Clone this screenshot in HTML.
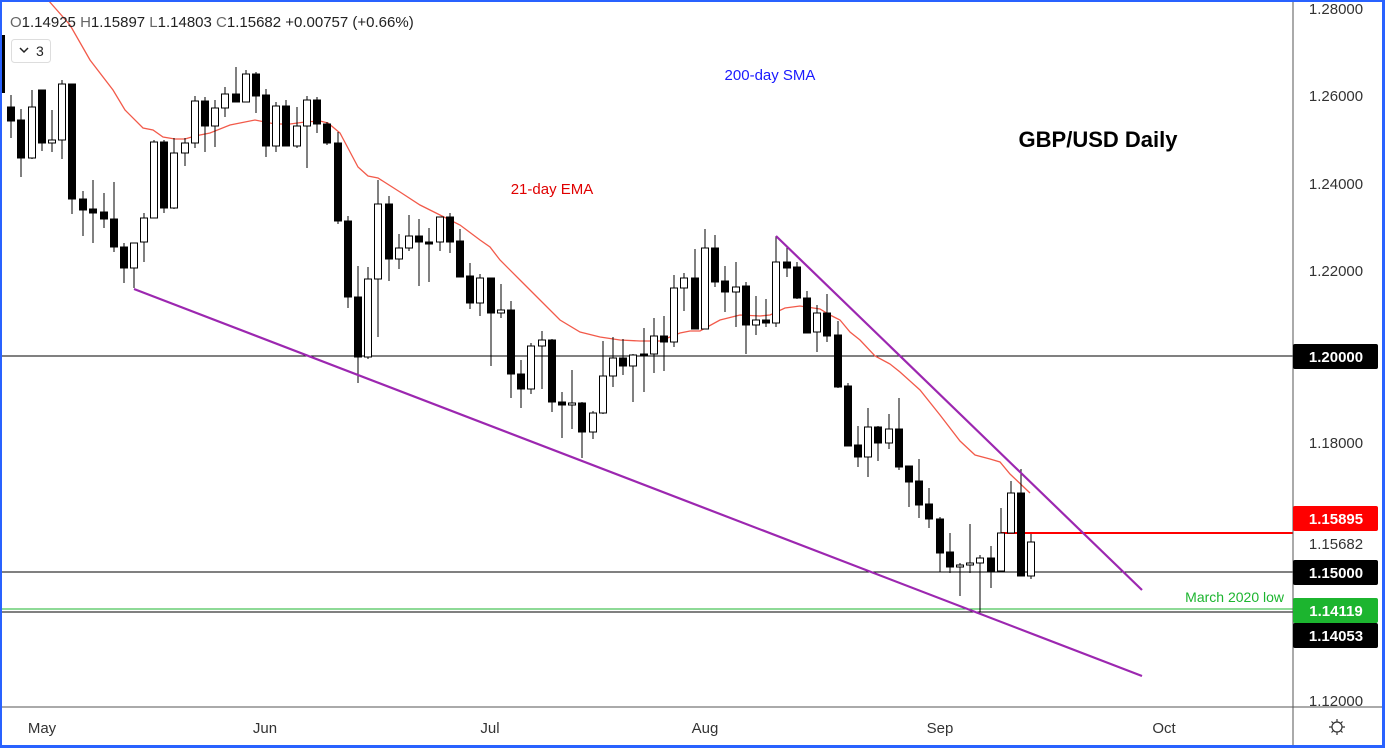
<!DOCTYPE html>
<html><head><meta charset="utf-8"><style>
html,body{margin:0;padding:0;background:#fff;}
svg{display:block;font-family:"Liberation Sans",sans-serif;}
</style></head><body>
<svg id="s" width="1385" height="748" xmlns="http://www.w3.org/2000/svg">
<rect width="1385" height="748" fill="#fff"/>
<g id="grid">
<line x1="0" y1="356" x2="1293" y2="356" stroke="#000" stroke-width="1"/>
<line x1="0" y1="572" x2="1293" y2="572" stroke="#000" stroke-width="1"/>
<line x1="0" y1="609" x2="1293" y2="609" stroke="#1cb52f" stroke-width="1"/>
<line x1="0" y1="612" x2="1293" y2="612" stroke="#000" stroke-width="1"/>
<line x1="1001" y1="533" x2="1293" y2="533" stroke="#f00" stroke-width="2"/>
</g>
<polyline fill="none" stroke="#f25a4a" stroke-width="1.3" points="48,0 70,25 90,60 113,90 125,110 143,128 153,130 163,137 175,139 185,139 195,136 210,133 230,125 255,120 275,124 290,124 305,122 320,121 328,123 340,133 358,167 368,176 378,178 400,192 420,205 440,215 460,225 480,240 490,247 500,260 520,280 540,300 560,320 580,332 600,337 620,340 640,341 660,341 680,333 690,331 700,331 720,320 740,315 760,316 770,315 785,308 800,306 820,309 830,315 840,320 850,332 860,340 875,356 890,364 900,372 920,390 940,415 960,441 975,455 990,459 1000,462 1010,474 1030,493"/>
<g id="c"></g>
<line x1="134" y1="289" x2="1142" y2="676" stroke="#9c27b0" stroke-width="2.2"/>
<line x1="776" y1="236" x2="1142" y2="590" stroke="#9c27b0" stroke-width="2.2"/>
<text x="1098" y="147" font-size="22" font-weight="bold" fill="#000" text-anchor="middle">GBP/USD Daily</text>
<text x="770" y="80" font-size="15" fill="#1a1aff" text-anchor="middle">200-day SMA</text>
<text x="552" y="194" font-size="15" fill="#e00000" text-anchor="middle">21-day EMA</text>
<text x="1284" y="602" font-size="14" fill="#1cb52f" text-anchor="end">March 2020 low</text>
<line x1="1293" y1="0" x2="1293" y2="745" stroke="#555" stroke-width="1"/>
<line x1="0" y1="707" x2="1382" y2="707" stroke="#555" stroke-width="1"/>
<g font-size="15" fill="#333" text-anchor="middle">
<text x="1336" y="14">1.28000</text>
<text x="1336" y="101">1.26000</text>
<text x="1336" y="189">1.24000</text>
<text x="1336" y="276">1.22000</text>
<text x="1336" y="448">1.18000</text>
<text x="1336" y="549">1.15682</text>
<text x="1336" y="706">1.12000</text>
</g>
<rect x="1293" y="344" width="85" height="25" rx="2" fill="#000"/>
<rect x="1293" y="506" width="85" height="25" rx="2" fill="#f00"/>
<rect x="1293" y="560" width="85" height="25" rx="2" fill="#000"/>
<rect x="1293" y="598" width="85" height="25" rx="2" fill="#1cb52f"/>
<rect x="1293" y="623" width="85" height="25" rx="2" fill="#000"/>
<g font-size="15" fill="#fff" text-anchor="middle" font-weight="bold">
<text x="1336" y="362">1.20000</text>
<text x="1336" y="524">1.15895</text>
<text x="1336" y="578">1.15000</text>
<text x="1336" y="616">1.14119</text>
<text x="1336" y="641">1.14053</text>
</g>
<g font-size="15" fill="#333" text-anchor="middle">
<text x="42" y="733">May</text>
<text x="265" y="733">Jun</text>
<text x="490" y="733">Jul</text>
<text x="705" y="733">Aug</text>
<text x="940" y="733">Sep</text>
<text x="1164" y="733">Oct</text>
</g>
<g stroke="#333" stroke-width="1.2" fill="none">
<circle cx="1337" cy="727" r="5"/>
<path d="M1337 719v3M1337 732v3M1329 727h3M1342 727h3M1331.5 721.5l2 2M1340.5 730.5l2 2M1342.5 721.5l-2 2M1333.5 730.5l-2 2"/>
</g>
<text x="10" y="27" font-size="15" fill="#222"><tspan fill="#666">O</tspan>1.14925 <tspan fill="#666">H</tspan>1.15897 <tspan fill="#666">L</tspan>1.14803 <tspan fill="#666">C</tspan>1.15682 +0.00757 (+0.66%)</text>
<rect x="11.5" y="39.5" width="39" height="23" rx="3" fill="#fff" stroke="#ddd"/>
<path d="M20 48l4 4 4-4" stroke="#222" stroke-width="1.5" fill="none"/>
<text x="36" y="56" font-size="14" fill="#222">3</text>
<rect x="0" y="35" width="5" height="58" fill="#000"/>
<rect x="0" y="0" width="1385" height="2" fill="#2962ff"/>
<rect x="0" y="0" width="2" height="748" fill="#2962ff"/>
<rect x="1382" y="0" width="3" height="748" fill="#2962ff"/>
<rect x="0" y="745" width="1385" height="3" fill="#2962ff"/>
</svg>
<script>
var d=[[11,107,121,95,138,0],[21,120,158,109,177,0],[32,107,158,90,159,1],[42,90,143,90,151,0],[52,140,143,110,152,1],[62,84,140,80,159,1],[72,84,199,84,214,0],[83,199,210,191,236,0],[93,209,213,180,243,0],[104,212,219,193,228,0],[114,219,247,182,252,0],[124,247,268,243,283,0],[134,243,268,243,288,1],[144,218,242,213,262,1],[154,142,218,140,218,1],[164,142,208,140,213,0],[174,153,208,138,209,1],[185,143,153,138,166,1],[195,101,143,96,148,1],[205,101,126,97,152,0],[215,108,126,100,147,1],[225,94,108,87,117,1],[236,94,102,67,102,0],[246,74,102,70,102,1],[256,74,96,72,113,0],[266,95,146,89,157,0],[276,106,146,102,152,1],[286,106,146,100,146,0],[297,126,146,107,148,1],[307,100,126,96,168,1],[317,100,124,97,133,0],[327,124,143,122,145,0],[338,143,221,132,224,0],[348,221,297,216,308,0],[358,297,357,266,383,0],[368,279,357,267,359,1],[378,204,279,180,337,1],[389,204,259,196,281,0],[399,248,259,234,269,1],[409,236,248,215,251,1],[419,236,242,219,286,0],[429,242,243,228,282,0],[440,217,242,217,251,1],[450,217,242,213,253,0],[460,241,277,229,277,0],[470,276,303,263,309,0],[480,278,303,274,316,1],[491,278,313,278,366,0],[501,310,313,284,318,1],[511,310,374,301,398,0],[521,374,389,360,408,0],[531,346,389,343,394,1],[542,340,346,331,389,1],[552,340,402,339,412,0],[562,402,405,392,438,0],[572,403,405,370,429,1],[582,403,432,402,458,0],[593,413,432,411,439,1],[603,376,413,341,414,1],[613,358,376,337,387,1],[623,358,366,339,375,0],[633,355,366,354,402,1],[644,354,356,328,392,0],[654,336,354,318,373,1],[664,336,342,316,371,0],[674,288,342,275,347,1],[684,278,288,273,311,1],[695,278,329,249,329,0],[705,248,329,229,329,1],[715,248,282,235,287,0],[725,281,292,266,312,0],[736,287,292,262,327,1],[746,286,325,282,354,0],[756,320,325,296,335,1],[766,320,323,299,327,0],[776,262,323,236,327,1],[787,262,268,247,277,0],[797,267,298,262,299,0],[807,298,333,291,333,0],[817,313,332,305,352,1],[827,313,336,294,342,0],[838,335,387,321,388,0],[848,386,446,383,446,0],[858,445,457,426,467,0],[868,427,457,408,477,1],[878,427,443,426,461,0],[889,429,443,414,449,1],[899,429,467,398,470,0],[909,466,482,466,507,0],[919,481,505,459,518,0],[929,504,519,488,528,0],[940,519,553,517,572,0],[950,552,567,533,573,0],[960,565,567,563,596,1],[970,563,565,524,573,1],[980,558,563,555,612,1],[991,558,571,546,588,0],[1001,533,571,508,572,1],[1011,493,533,481,533,1],[1021,493,576,469,576,0],[1031,542,576,534,579,1]];
var h='';d.forEach(function(c){var x=c[0],t=Math.min(c[1],c[2]),b=Math.max(c[1],c[2]);if(b-t<2)b=t+2;
h+='<line x1="'+x+'" y1="'+c[3]+'" x2="'+x+'" y2="'+c[4]+'" stroke="#000" stroke-width="1"/>';
h+='<rect x="'+(x-3.5)+'" y="'+t+'" width="7" height="'+(b-t)+'" fill="'+(c[5]?'#fff':'#000')+'" stroke="#000" stroke-width="1"/>';});
document.getElementById('c').innerHTML=h;
</script>
</body></html>
